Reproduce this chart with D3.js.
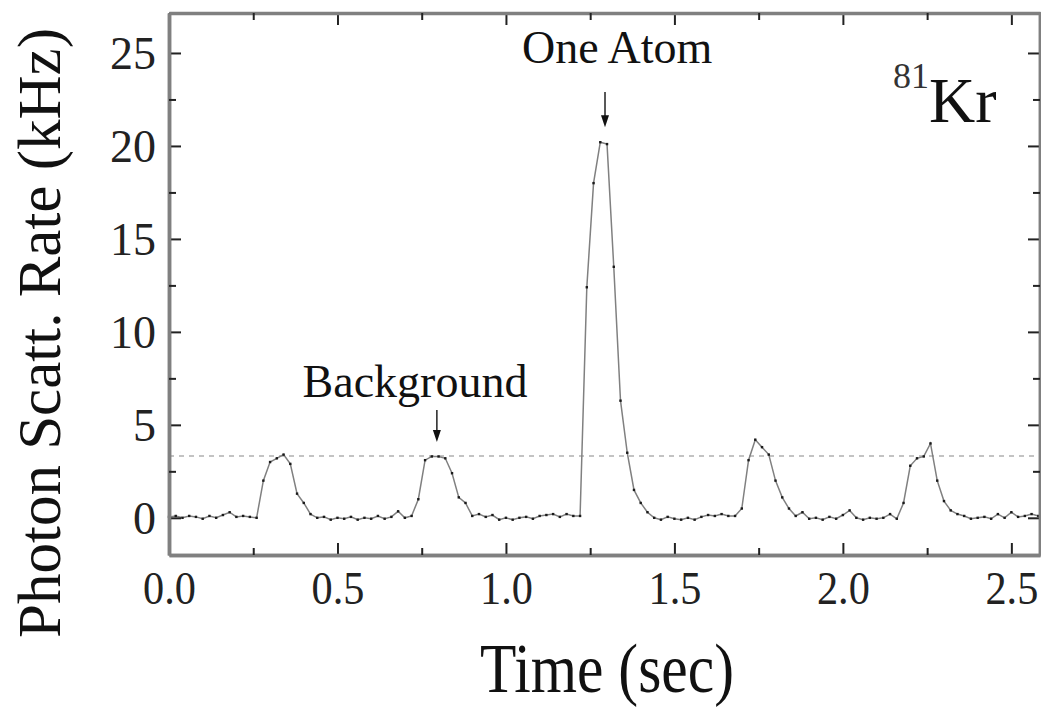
<!DOCTYPE html>
<html>
<head>
<meta charset="utf-8">
<script src="https://cdn.jsdelivr.net/npm/d3@7"></script>
<style>
	body { margin: 0; background: #fff; }
	svg { display: block; font-family: "Liberation Serif", "Times New Roman", serif; }
	.tick line { stroke: #222; stroke-width: 2; }
	.line-rate { fill: none; stroke: #808080; stroke-width: 1.5; }
	.marker { fill: #1a1a1a; }
	.threshold { stroke: #b0b0b0; stroke-width: 1.5; stroke-dasharray: 5 5; }
</style>
</head>
<body>
<div id="chart-holder"></div>
<script>
// sample spacing of the trace (sec)
let sampleStep = 0.02;

// photon scattering rate (kHz), one value per sample
let rate = [
	0.05, 0.1, 0.0, 0.1, 0.05, -0.05, 0.1, 0.0, 0.15, 0.3,
	0.05, 0.1, 0.05, 0.0, 2.0, 3.0, 3.2, 3.4, 2.9, 1.3,
	0.8, 0.2, 0.0, 0.05, -0.1, 0.0, -0.05, 0.05, -0.1, 0.0,
	-0.05, 0.1, -0.05, 0.05, 0.35, 0.0, 0.1, 1.0, 3.1, 3.3,
	3.3, 3.2, 2.4, 1.1, 0.8, 0.1, 0.2, 0.05, 0.15, -0.1,
	0.0, -0.1, 0.0, 0.05, -0.05, 0.1, 0.15, 0.2, 0.05, 0.2,
	0.1, 0.1, 12.4, 18.0, 20.2, 20.1, 13.5, 6.3, 3.5, 1.5,
	0.8, 0.3, 0.0, -0.1, 0.05, -0.05, -0.1, 0.0, -0.1, 0.05,
	0.15, 0.1, 0.2, 0.1, 0.1, 0.5, 3.1, 4.2, 3.8, 3.4,
	2.0, 1.1, 0.5, 0.1, 0.3, -0.05, 0.0, -0.1, 0.05, -0.05,
	0.15, 0.4, 0.0, -0.1, 0.0, -0.05, 0.0, 0.2, -0.05, 0.8,
	2.8, 3.2, 3.3, 4.0, 2.0, 0.9, 0.4, 0.2, 0.1, -0.05,
	0.0, 0.05, -0.05, 0.2, 0.0, 0.3, 0.05, 0.1, 0.2, 0.1
];

// background level (dashed line)
let backgroundLevel = 3.33;

// axes
let xDomain = [0, 2.585];
let yDomain = [-2.0, 27.15];
let xMajorTicks = [0.0, 0.5, 1.0, 1.5, 2.0, 2.5];
let xMinorTicks = [0.25, 0.75, 1.25, 1.75, 2.25];
let xTickLabels = ["0.0", "0.5", "1.0", "1.5", "2.0", "2.5"];
let yMajorTicks = [0, 5, 10, 15, 20, 25];
let yMinorTicks = [2.5, 7.5, 12.5, 17.5, 22.5];
let xTitle = "Time (sec)";
let yTitle = "Photon Scatt. Rate (kHz)";

// annotations in data coordinates: label, x, y and arrow from/to
let annotLabels = ["One Atom", "Background"];
let annotLabelX = [1.33, 0.73];
let annotLabelY = [24.45, 6.5];
let arrowX = [1.294, 0.795];
let arrowFrom = [22.9, 5.8];
let arrowTo = [21.0, 4.08];

// isotope tag
let isotopeMass = "81";
let isotopeName = "Kr";
let isotopeX = 2.149;
let isotopeY = 21.3;

let serif = "'Liberation Serif', 'Times New Roman', serif";

let drawChart = function(parent) {
	let totalW = 1041, totalH = 711;
	let margin = { top: 13, right: 1, bottom: 156, left: 169 };
	let width = totalW - margin.left - margin.right;
	let height = totalH - margin.top - margin.bottom;

	let svg = d3.select(parent).append("svg")
		.attr("width", totalW)
		.attr("height", totalH);

	let g = svg.append("g")
		.attr("transform", `translate(${margin.left}, ${margin.top})`);

	let x = d3.scaleLinear().domain(xDomain).range([0, width]);
	let y = d3.scaleLinear().domain(yDomain).range([height, 0]);

	let data = rate.map((v, i) => ({ t: i * sampleStep, r: v }));

	//dashed background level
	g.append("line")
		.attr("class", "threshold")
		.attr("x1", 0)
		.attr("x2", width)
		.attr("y1", y(backgroundLevel))
		.attr("y2", y(backgroundLevel));

	//trace
	let lineRate = d3.line()
		.x(d => x(d.t))
		.y(d => y(d.r));
	g.append("path")
		.attr("class", "line-rate")
		.attr("d", lineRate(data));
	g.selectAll("rect.marker")
		.data(data)
		.enter()
		.append("rect")
		.attr("class", "marker")
		.attr("x", d => x(d.t) - 1.2)
		.attr("y", d => y(d.r) - 1.2)
		.attr("width", 2.4)
		.attr("height", 2.4);

	//bottom axis, ticks inward
	let xAxis = g.append("g")
		.attr("transform", `translate(0, ${height})`)
		.call(d3.axisBottom(x)
			.tickValues(xMajorTicks)
			.tickSize(-12)
			.tickSizeOuter(0)
			.tickPadding(49)
			.tickFormat((d, i) => xTickLabels[i]));
	xAxis.attr("font-family", serif);
	xAxis.selectAll("text")
		.attr("font-size", 46)
		.attr("fill", "#222")
		.attr("dy", 0)
		.attr("transform", "scale(0.92,1)");
	g.append("g")
		.attr("transform", `translate(0, ${height})`)
		.call(d3.axisBottom(x).tickValues(xMinorTicks).tickSize(-7).tickSizeOuter(0).tickFormat(""));

	//top axis
	g.append("g")
		.attr("class", "top-axis")
		.call(d3.axisTop(x).tickValues(xMajorTicks).tickSize(-12).tickSizeOuter(0).tickFormat(""));
	g.append("g")
		.call(d3.axisTop(x).tickValues(xMinorTicks).tickSize(-7).tickSizeOuter(0).tickFormat(""));

	//left axis
	let yAxis = g.append("g")
		.call(d3.axisLeft(y)
			.tickValues(yMajorTicks)
			.tickSize(-12)
			.tickSizeOuter(0)
			.tickPadding(13));
	yAxis.attr("font-family", serif);
	yAxis.selectAll("text")
		.attr("font-size", 46)
		.attr("fill", "#222")
		.attr("dy", "0.34em");
	g.append("g")
		.call(d3.axisLeft(y).tickValues(yMinorTicks).tickSize(-7).tickSizeOuter(0).tickFormat(""));

	//right axis
	g.append("g")
		.attr("transform", `translate(${width}, 0)`)
		.call(d3.axisRight(y).tickValues(yMajorTicks).tickSize(-12).tickSizeOuter(0).tickFormat(""));
	g.append("g")
		.attr("transform", `translate(${width}, 0)`)
		.call(d3.axisRight(y).tickValues(yMinorTicks).tickSize(-7).tickSizeOuter(0).tickFormat(""));

	//frame lines: bottom/left grey, top black
	g.selectAll(".domain").attr("stroke", "#808080").attr("stroke-width", 3.5);
	g.select(".top-axis .domain").attr("stroke", "#111").attr("stroke-width", 3);

	//annotations with arrows
	annotLabels.forEach(function(label, i) {
		g.append("text")
			.attr("x", x(annotLabelX[i]))
			.attr("y", y(annotLabelY[i]))
			.attr("text-anchor", "middle")
			.attr("font-size", 46)
			.attr("fill", "#111")
			.text(label);
		let ax = x(arrowX[i]), y0 = y(arrowFrom[i]), y1 = y(arrowTo[i]);
		g.append("line")
			.attr("x1", ax).attr("x2", ax)
			.attr("y1", y0).attr("y2", y1 - 8)
			.attr("stroke", "#222")
			.attr("stroke-width", 1.5);
		g.append("path")
			.attr("d", `M${ax - 4},${y1 - 12}L${ax + 4},${y1 - 12}L${ax},${y1}Z`)
			.attr("fill", "#111");
	});

	//isotope tag
	let iso = g.append("text")
		.attr("x", x(isotopeX))
		.attr("y", y(isotopeY))
		.attr("fill", "#111");
	iso.append("tspan")
		.attr("font-size", 36)
		.attr("dy", -34)
		.attr("fill", "#333")
		.text(isotopeMass);
	iso.append("tspan")
		.attr("font-size", 64)
		.attr("dy", 34)
		.text(isotopeName);

	//axis titles
	svg.append("text")
		.attr("transform", "translate(607, 692) scale(0.85,1)")
		.attr("text-anchor", "middle")
		.attr("font-size", 70)
		.attr("fill", "#111")
		.text(xTitle);
	svg.append("text")
		.attr("transform", "translate(60, 333) rotate(-90)")
		.attr("text-anchor", "middle")
		.attr("font-size", 61)
		.attr("fill", "#111")
		.text(yTitle);

	return svg.node();
};

drawChart(d3.select("#chart-holder").node());
</script>
</body>
</html>
